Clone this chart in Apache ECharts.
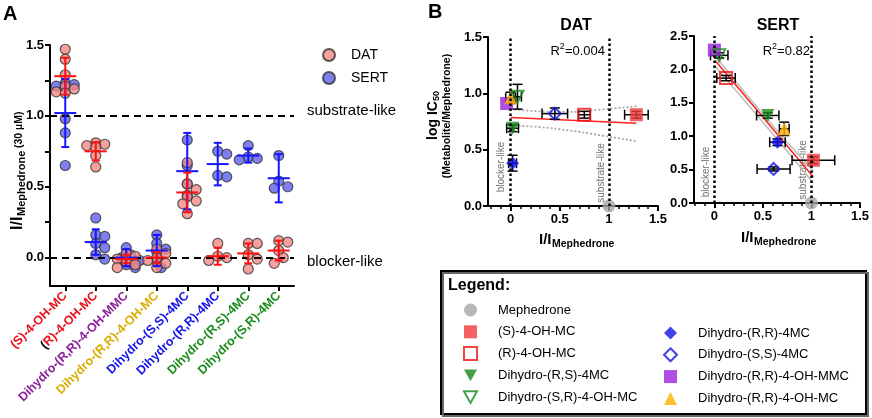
<!DOCTYPE html>
<html><head><meta charset="utf-8">
<script src="https://cdn.jsdelivr.net/npm/echarts@6/dist/echarts.min.js"></script>
<style>html,body{margin:0;padding:0;background:#fff}#c{width:872px;height:418px}</style>
</head><body><div id="c"></div>
<script>
const FONT = "'Liberation Sans', Arial, Helvetica, sans-serif";

// ---------- Panel A data ----------
const catsA = ['(S)-4-OH-MC','(R)-4-OH-MC','Dihydro-(R,R)-4-OH-MMC','Dihydro-(R,R)-4-OH-MC','Dihydro-(S,S)-4MC','Dihydro-(R,R)-4MC','Dihydro-(R,S)-4MC','Dihydro-(S,R)-4MC'];
const catColors = ['#e8121c','#e8121c','#8a1f9a','#d9ad00','#1414e8','#1414e8','#1b8c1b','#1b8c1b'];
const datPts = [
  [1.47,1.40,1.29,1.21,1.19,1.17,1.16],
  [0.81,0.80,0.79,0.78,0.72,0.64],
  [0.03,0.01,-0.01,-0.03,-0.05,-0.07],
  [0.06,0.03,0.00,-0.02,-0.04,-0.07],
  [0.67,0.52,0.48,0.43,0.40,0.38,0.31],
  [0.10,0.01,0.00,-0.02],
  [0.10,0.10,0.02,-0.01,-0.08],
  [0.12,0.11,0.05,0.00,-0.04]
];
const sertPts = [
  [1.23,1.22,1.21,1.20,0.98,0.88,0.65],
  [0.28,0.16,0.15,0.10,0.07,0.02,-0.01],
  [0.07,0.02,0.00,-0.02,-0.05,-0.07],
  [0.16,0.10,0.06,0.04,-0.02,-0.07],
  [0.83,0.65,0.52,0.44],
  [0.75,0.73,0.58,0.57],
  [0.79,0.71,0.70,0.69],
  [0.72,0.54,0.50,0.49]
];
const datMean  = [1.28,0.75,-0.01,0.00,0.46,0.01,0.03,0.05];
const datSD    = [0.13,0.065,0.03,0.04,0.14,0.06,0.07,0.07];
const sertMean = [1.02,0.11,0.00,0.05,0.61,0.66,0.72,0.56];
const sertSD   = [0.24,0.09,0.06,0.11,0.27,0.15,0.05,0.17];
const yTicksA  = [0,0.25,0.5,0.75,1,1.25,1.5];
const yLabelsA = [0,0.5,1,1.5];

// ---------- Panel B data ----------
const compounds = ['Mephedrone','(S)-4-OH-MC','(R)-4-OH-MC','Dihydro-(R,S)-4MC','Dihydro-(S,R)-4-OH-MC','Dihydro-(R,R)-4MC','Dihydro-(S,S)-4MC','Dihydro-(R,R)-4-OH-MMC','Dihydro-(R,R)-4-OH-MC'];
const datX    = [1, 1.28, 0.75, 0.02, 0.07, 0.02, 0.45, -0.04, 0.00];
const datY    = [0, 0.81, 0.81, 0.69, 0.97, 0.38, 0.82, 0.91, 0.96];
const datXErr = [0, 0.12, 0.06, 0.06, 0.04, 0.04, 0.13, 0.00, 0.05];
const datYErr = [0, 0.03, 0.03, 0.03, 0.11, 0.07, 0.05, 0.00, 0.05];
const sertX    = [1, 1.02, 0.12, 0.55, 0.05, 0.65, 0.61, 0.00, 0.72];
const sertY    = [0, 0.64, 1.87, 1.31, 2.21, 0.91, 0.51, 2.29, 1.11];
const sertXErr = [0, 0.22, 0.095, 0.115, 0.09, 0.08, 0.17, 0.00, 0.05];
const sertYErr = [0, 0.05, 0.04, 0.04, 0.04, 0.05, 0.03, 0.00, 0.10];
const datFitX = [0, 1.28], datFitY = [0.785, 0.735];
const datBandX = [0, 0.3, 0.6, 0.9, 1.28];
const datBandUp = [0.86, 0.84, 0.835, 0.855, 0.885];
const datBandLo = [0.715, 0.70, 0.67, 0.63, 0.575];
const sertFitX = [0.01, 1.02], sertFitY = [2.13, 0.39];
const sertBandX = [0, 0.5, 1.02];
const sertBandUp = [2.22, 1.33, 0.48];
const sertBandLo = [2.06, 1.21, 0.30];
const xLabelsB = [0, 0.5, 1, 1.5];

// ---------- styles ----------
const triDown = 'path://M0,0L10,0L5,9Z';
const styleB = {
  'Mephedrone':            {symbol:'circle', size:13, fill:'#a6a6a6', open:false},
  '(S)-4-OH-MC':           {symbol:'rect', size:13, fill:'#f03a3a', open:false},
  '(R)-4-OH-MC':           {symbol:'rect', size:12, fill:'#ee1111', open:true},
  'Dihydro-(R,S)-4MC':     {symbol:triDown, size:13, fill:'#17891a', open:false},
  'Dihydro-(S,R)-4-OH-MC': {symbol:triDown, size:12, fill:'#17891a', open:true},
  'Dihydro-(R,R)-4MC':     {symbol:'diamond', size:13, fill:'#1212e6', open:false},
  'Dihydro-(S,S)-4MC':     {symbol:'diamond', size:12, fill:'#1212e6', open:true},
  'Dihydro-(R,R)-4-OH-MMC':{symbol:'rect', size:13, fill:'#9b22dd', open:false},
  'Dihydro-(R,R)-4-OH-MC': {symbol:'triangle', size:13, fill:'#ffb000', open:false}
};
const drawOrder = ['Mephedrone','Dihydro-(R,R)-4-OH-MMC','Dihydro-(R,R)-4-OH-MC','(S)-4-OH-MC','(R)-4-OH-MC','Dihydro-(R,S)-4MC','Dihydro-(S,R)-4-OH-MC','Dihydro-(R,R)-4MC','Dihydro-(S,S)-4MC'];

// grid A layout
const GA = {left:50, top:45, width:244, height:241};
const PXX = GA.width / catsA.length;      // px per category unit
const PXY = GA.height / 1.7;              // px per y unit

function swarm(vals) {
  const placed = [], out = new Array(vals.length);
  const order = vals.map((v,i)=>i).sort((a,b)=>vals[b]-vals[a]);
  for (const i of order) {
    const y = vals[i]*PXY;
    const cands = [0,1,-1,2,-2,3,-3].map(k=>k*4.5);
    let done = false;
    for (const dx of cands) {
      if (placed.every(p => Math.hypot(p.x-dx, p.y-y) >= 7.5)) { out[i]=dx; placed.push({x:dx,y}); done=true; break; }
    }
    if (!done) { out[i]=0; placed.push({x:0,y}); }
  }
  return out.map(dx=>dx/PXX);
}
function swarmData(groups) {
  const d = [];
  groups.forEach((g,ci)=>{ const off = swarm(g); g.forEach((v,k)=>d.push([ci+off[k], v])); });
  return d;
}

function meanRender(color) {
  return function(params, api) {
    const i = api.value(0), m = api.value(1), s = api.value(2);
    const c = api.coord([i,m]), t = api.coord([i,m+s]), b = api.coord([i,m-s]);
    const st = {stroke:color, lineWidth:2};
    return {type:'group', children:[
      {type:'line', shape:{x1:c[0]-11,y1:c[1],x2:c[0]+11,y2:c[1]}, style:st},
      {type:'line', shape:{x1:c[0],y1:t[1],x2:c[0],y2:b[1]}, style:st},
      {type:'line', shape:{x1:c[0]-4,y1:t[1],x2:c[0]+4,y2:t[1]}, style:st},
      {type:'line', shape:{x1:c[0]-4,y1:b[1],x2:c[0]+4,y2:b[1]}, style:st}
    ]};
  };
}
function errRender(params, api) {
  const x = api.value(0), y = api.value(1), ex = api.value(2), ey = api.value(3);
  const st = {stroke:'#000', lineWidth:1.5};
  const ch = [];
  if (ex > 0) {
    const l = api.coord([x-ex,y]), r = api.coord([x+ex,y]);
    ch.push({type:'line', shape:{x1:l[0],y1:l[1],x2:r[0],y2:r[1]}, style:st});
    ch.push({type:'line', shape:{x1:l[0],y1:l[1]-5,x2:l[0],y2:l[1]+5}, style:st});
    ch.push({type:'line', shape:{x1:r[0],y1:r[1]-5,x2:r[0],y2:r[1]+5}, style:st});
  }
  if (ey > 0) {
    const t = api.coord([x,y+ey]), b = api.coord([x,y-ey]);
    ch.push({type:'line', shape:{x1:t[0],y1:t[1],x2:b[0],y2:b[1]}, style:st});
    ch.push({type:'line', shape:{x1:t[0]-5,y1:t[1],x2:t[0]+5,y2:t[1]}, style:st});
    ch.push({type:'line', shape:{x1:b[0]-5,y1:b[1],x2:b[0]+5,y2:b[1]}, style:st});
  }
  return {type:'group', children:ch};
}

const axisLine = {show:true, onZero:false, lineStyle:{color:'#000', width:2}};
const tickStyle = {color:'#000', width:2};
const boldLbl = {color:'#000', fontWeight:'bold', fontSize:13, fontFamily:FONT};

const rich = {k:{color:'#000', fontWeight:'bold', fontSize:12.5, fontFamily:FONT}};
catColors.forEach((c,i)=>{ rich['c'+i] = {color:c, fontWeight:'bold', fontSize:12.5, fontFamily:FONT}; });

function minorTicks(min, max) { const a=[]; for (let v=Math.ceil(min*10); v<=Math.floor(max*10); v++) a.push(v/10); return a; }

const xB = (gi, min) => ([
  {gridIndex:gi, type:'value', position:'bottom', min:min, max:1.5, axisLine,
   axisTick:{show:true, customValues:xLabelsB, length:5, lineStyle:tickStyle},
   axisLabel:{customValues:xLabelsB, formatter:v=>String(v), ...boldLbl, margin:7},
   splitLine:{show:false}},
  {gridIndex:gi, type:'value', position:'bottom', min:min, max:1.5, axisLine:{show:false, onZero:false},
   axisTick:{show:true, customValues:minorTicks(min,1.5), length:3, lineStyle:{color:'#000', width:1.5}},
   axisLabel:{show:false}, splitLine:{show:false}}
]);

const series = [];
// Panel A dashed reference lines
series.push({type:'line', xAxisIndex:1, yAxisIndex:0, data:[], z:1, silent:true,
  markLine:{silent:true, symbol:['none','none'], label:{show:false},
    lineStyle:{color:'#000', width:2, type:[7,5]}, data:[{yAxis:1},{yAxis:0}]}});
series.push({name:'SERT', type:'scatter', xAxisIndex:1, yAxisIndex:0, data:swarmData(sertPts), symbolSize:10,
  itemStyle:{color:'#5f5fee', borderColor:'#333', borderWidth:1.2}});
series.push({name:'DAT', type:'scatter', xAxisIndex:1, yAxisIndex:0, data:swarmData(datPts), symbolSize:10,
  itemStyle:{color:'#f48a84', borderColor:'#333', borderWidth:1.2}});
series.push({type:'custom', xAxisIndex:1, yAxisIndex:0, renderItem:meanRender('#1515ff'), z:5,
  data:catsA.map((_,i)=>[i, sertMean[i], sertSD[i]])});
series.push({type:'custom', xAxisIndex:1, yAxisIndex:0, renderItem:meanRender('#ff1010'), z:6,
  data:catsA.map((_,i)=>[i, datMean[i], datSD[i]])});

// Panel B
function addB(xIdx, yIdx, X, Y, EX, EY, fitX, fitY, bandX, bandUp, bandLo, bandDotted) {
  const bandStyle = bandDotted ? {color:'#a8a8a8', width:1.8, type:[2,2]} : {color:'#bdbdbd', width:1.5};
  series.push({type:'line', xAxisIndex:xIdx, yAxisIndex:yIdx, data:bandX.map((x,i)=>[x,bandUp[i]]), showSymbol:false, smooth:true, lineStyle:bandStyle, silent:true, z:1});
  series.push({type:'line', xAxisIndex:xIdx, yAxisIndex:yIdx, data:bandX.map((x,i)=>[x,bandLo[i]]), showSymbol:false, smooth:true, lineStyle:bandStyle, silent:true, z:1});
  series.push({type:'line', xAxisIndex:xIdx, yAxisIndex:yIdx, data:fitX.map((x,i)=>[x,fitY[i]]), showSymbol:false, lineStyle:{color:'#ff2020', width:1.5}, silent:true, z:1});
  series.push({type:'custom', xAxisIndex:xIdx, yAxisIndex:yIdx, renderItem:errRender, z:2, silent:true,
    data:compounds.map((c,i)=>[X[i],Y[i],EX[i],EY[i]])});
  drawOrder.forEach(name=>{
    const i = compounds.indexOf(name), s = styleB[name];
    const obj = {name, type:'scatter', xAxisIndex:xIdx, yAxisIndex:yIdx, data:[[X[i],Y[i]]],
      symbol:s.symbol, symbolSize:s.size, z:3,
      itemStyle: s.open ? {color:'rgba(255,255,255,0)', borderColor:s.fill, borderWidth:2} : {color:s.fill}};
    if (name==='Mephedrone') {
      obj.markLine = {silent:true, symbol:['none','none'], label:{show:false},
        lineStyle:{color:'#000', width:2.5, type:[2.5,2.5]}, data:[{xAxis:0},{xAxis:1}]};
    }
    series.push(obj);
  });
}
addB(2, 1, datX, datY, datXErr, datYErr, datFitX, datFitY, datBandX, datBandUp, datBandLo, true);
addB(4, 2, sertX, sertY, sertXErr, sertYErr, sertFitX, sertFitY, sertBandX, sertBandUp, sertBandLo, false);

const T = (x,y,text,font,opt={}) => Object.assign({type:'text', x, y, silent:true,
  style:Object.assign({text, font:font+' '+FONT, fill:'#000', align:'left', verticalAlign:'middle'}, opt.style||{})}, opt.el||{});

const option = {
  backgroundColor:'#fff',
  animation:false,
  textStyle:{fontFamily:FONT},
  grid:[
    {left:GA.left, top:GA.top, width:GA.width, height:GA.height},
    {left:488, top:37, width:170, height:169},
    {left:694, top:36, width:168, height:167}
  ],
  xAxis:[
    {gridIndex:0, type:'category', position:'bottom', data:catsA, axisLine,
     axisTick:{show:true, alignWithLabel:true, length:5, lineStyle:tickStyle},
     axisLabel:{rotate:45, interval:0, margin:8, rich,
       formatter:(v,i)=> i===1 ? '{k|(}{c1|R)-4-OH-MC}' : '{c'+i+'|'+v+'}'}},
    {gridIndex:0, type:'value', position:'bottom', min:-0.5, max:catsA.length-0.5, show:false},
    ...xB(1, -0.23),
    ...xB(2, -0.21)
  ],
  yAxis:[
    {gridIndex:0, type:'value', min:-0.2, max:1.5, axisLine,
     axisTick:{show:true, customValues:yTicksA, length:5, lineStyle:tickStyle},
     axisLabel:{customValues:yLabelsA, formatter:v=>v.toFixed(1), ...boldLbl, margin:6},
     splitLine:{show:false}},
    {gridIndex:1, type:'value', min:0, max:1.5, interval:0.5, axisLine,
     axisTick:{show:true, length:5, lineStyle:tickStyle},
     axisLabel:{formatter:v=>v.toFixed(1), ...boldLbl, margin:6}, splitLine:{show:false}},
    {gridIndex:2, type:'value', min:0, max:2.5, interval:0.5, axisLine,
     axisTick:{show:true, length:5, lineStyle:tickStyle},
     axisLabel:{formatter:v=>v.toFixed(1), ...boldLbl, margin:6}, splitLine:{show:false}}
  ],
  legend:[
    {data:['DAT','SERT'], orient:'vertical', left:317, top:42, itemWidth:12, itemHeight:12, itemGap:7,
     selectedMode:false, textStyle:{fontSize:14, fontFamily:FONT, color:'#000', lineHeight:16, padding:[0,0,0,11]}},
    {data:['Mephedrone','(S)-4-OH-MC','(R)-4-OH-MC','Dihydro-(R,S)-4MC','Dihydro-(S,R)-4-OH-MC'],
     orient:'vertical', left:458, top:297, itemWidth:13, itemHeight:13, itemGap:5.8, selectedMode:false,
     textStyle:{fontSize:13, fontFamily:FONT, color:'#000', lineHeight:16, padding:[0,0,0,16]}},
    {data:['Dihydro-(R,R)-4MC','Dihydro-(S,S)-4MC','Dihydro-(R,R)-4-OH-MMC','Dihydro-(R,R)-4-OH-MC'],
     orient:'vertical', left:658, top:320, itemWidth:13, itemHeight:13, itemGap:5.8, selectedMode:false,
     textStyle:{fontSize:13, fontFamily:FONT, color:'#000', lineHeight:16, padding:[0,0,0,16]}}
  ],
  graphic:[
    T(3,14,'A','bold 20px'),
    T(428,12,'B','bold 20px'),
    T(576,26,'DAT','bold 16px',{style:{align:'center'}}),
    T(778,26,'SERT','bold 16px',{style:{align:'center'}}),
    T(307,111,'substrate-like','15px'),
    T(307,262,'blocker-like','15px'),
    {type:'text', x:605, y:50, silent:true, style:{text:'{a|R}{s|2}{a|=0.004}', align:'right', verticalAlign:'middle',
      rich:{a:{fontSize:13, fontFamily:FONT, fill:'#000', color:'#000', lineHeight:16, verticalAlign:'bottom'},
            s:{fontSize:9, fontFamily:FONT, fill:'#000', color:'#000', lineHeight:16, verticalAlign:'top'}}}},
    {type:'text', x:810, y:50, silent:true, style:{text:'{a|R}{s|2}{a|=0.82}', align:'right', verticalAlign:'middle',
      rich:{a:{fontSize:13, fontFamily:FONT, fill:'#000', color:'#000', lineHeight:16, verticalAlign:'bottom'},
            s:{fontSize:9, fontFamily:FONT, fill:'#000', color:'#000', lineHeight:16, verticalAlign:'top'}}}},
    T(501,167,'blocker-like','10px',{style:{align:'center', fill:'#707070'}, el:{rotation:Math.PI/2}}),
    T(601,173,'substrate-like','10px',{style:{align:'center', fill:'#707070'}, el:{rotation:Math.PI/2}}),
    T(706,172,'blocker-like','10px',{style:{align:'center', fill:'#707070'}, el:{rotation:Math.PI/2}}),
    T(803,170,'substrate-like','10px',{style:{align:'center', fill:'#707070'}, el:{rotation:Math.PI/2}}),
    {type:'group', x:18, y:171, rotation:Math.PI/2, children:[
      T(-59,0,'I/I','bold 16px'),
      T(-45,4,'Mephedrone','bold 11px'),
      T(23,1,'(30 µM)','bold 10.5px')
    ]},
    {type:'group', x:433, y:115, rotation:Math.PI/2, children:[
      T(-25,0,'log IC','bold 14px'),
      T(14,4,'50','bold 9px')
    ]},
    T(447,116,'(Metabolite/Mephedrone)','bold 10.5px',{style:{align:'center'}, el:{rotation:Math.PI/2}}),
    {type:'group', x:576, y:240, children:[T(-37,0,'I/I','bold 15px'), T(-24,4,'Mephedrone','bold 10.5px')]},
    {type:'group', x:778, y:238, children:[T(-37,0,'I/I','bold 15px'), T(-24,4,'Mephedrone','bold 10.5px')]},
    {type:'rect', shape:{x:443, y:273, width:425, height:143}, style:{fill:'none', stroke:'#666', lineWidth:2}, silent:true},
    {type:'rect', shape:{x:441, y:271, width:425, height:143}, style:{fill:'#fff', stroke:'#000', lineWidth:2}, silent:true, z:-1},
    T(448,286,'Legend:','bold 16px')
  ],
  series
};
const chart = echarts.init(document.getElementById('c'), null, {renderer:'canvas'});
chart.setOption(option);
</script></body></html>
